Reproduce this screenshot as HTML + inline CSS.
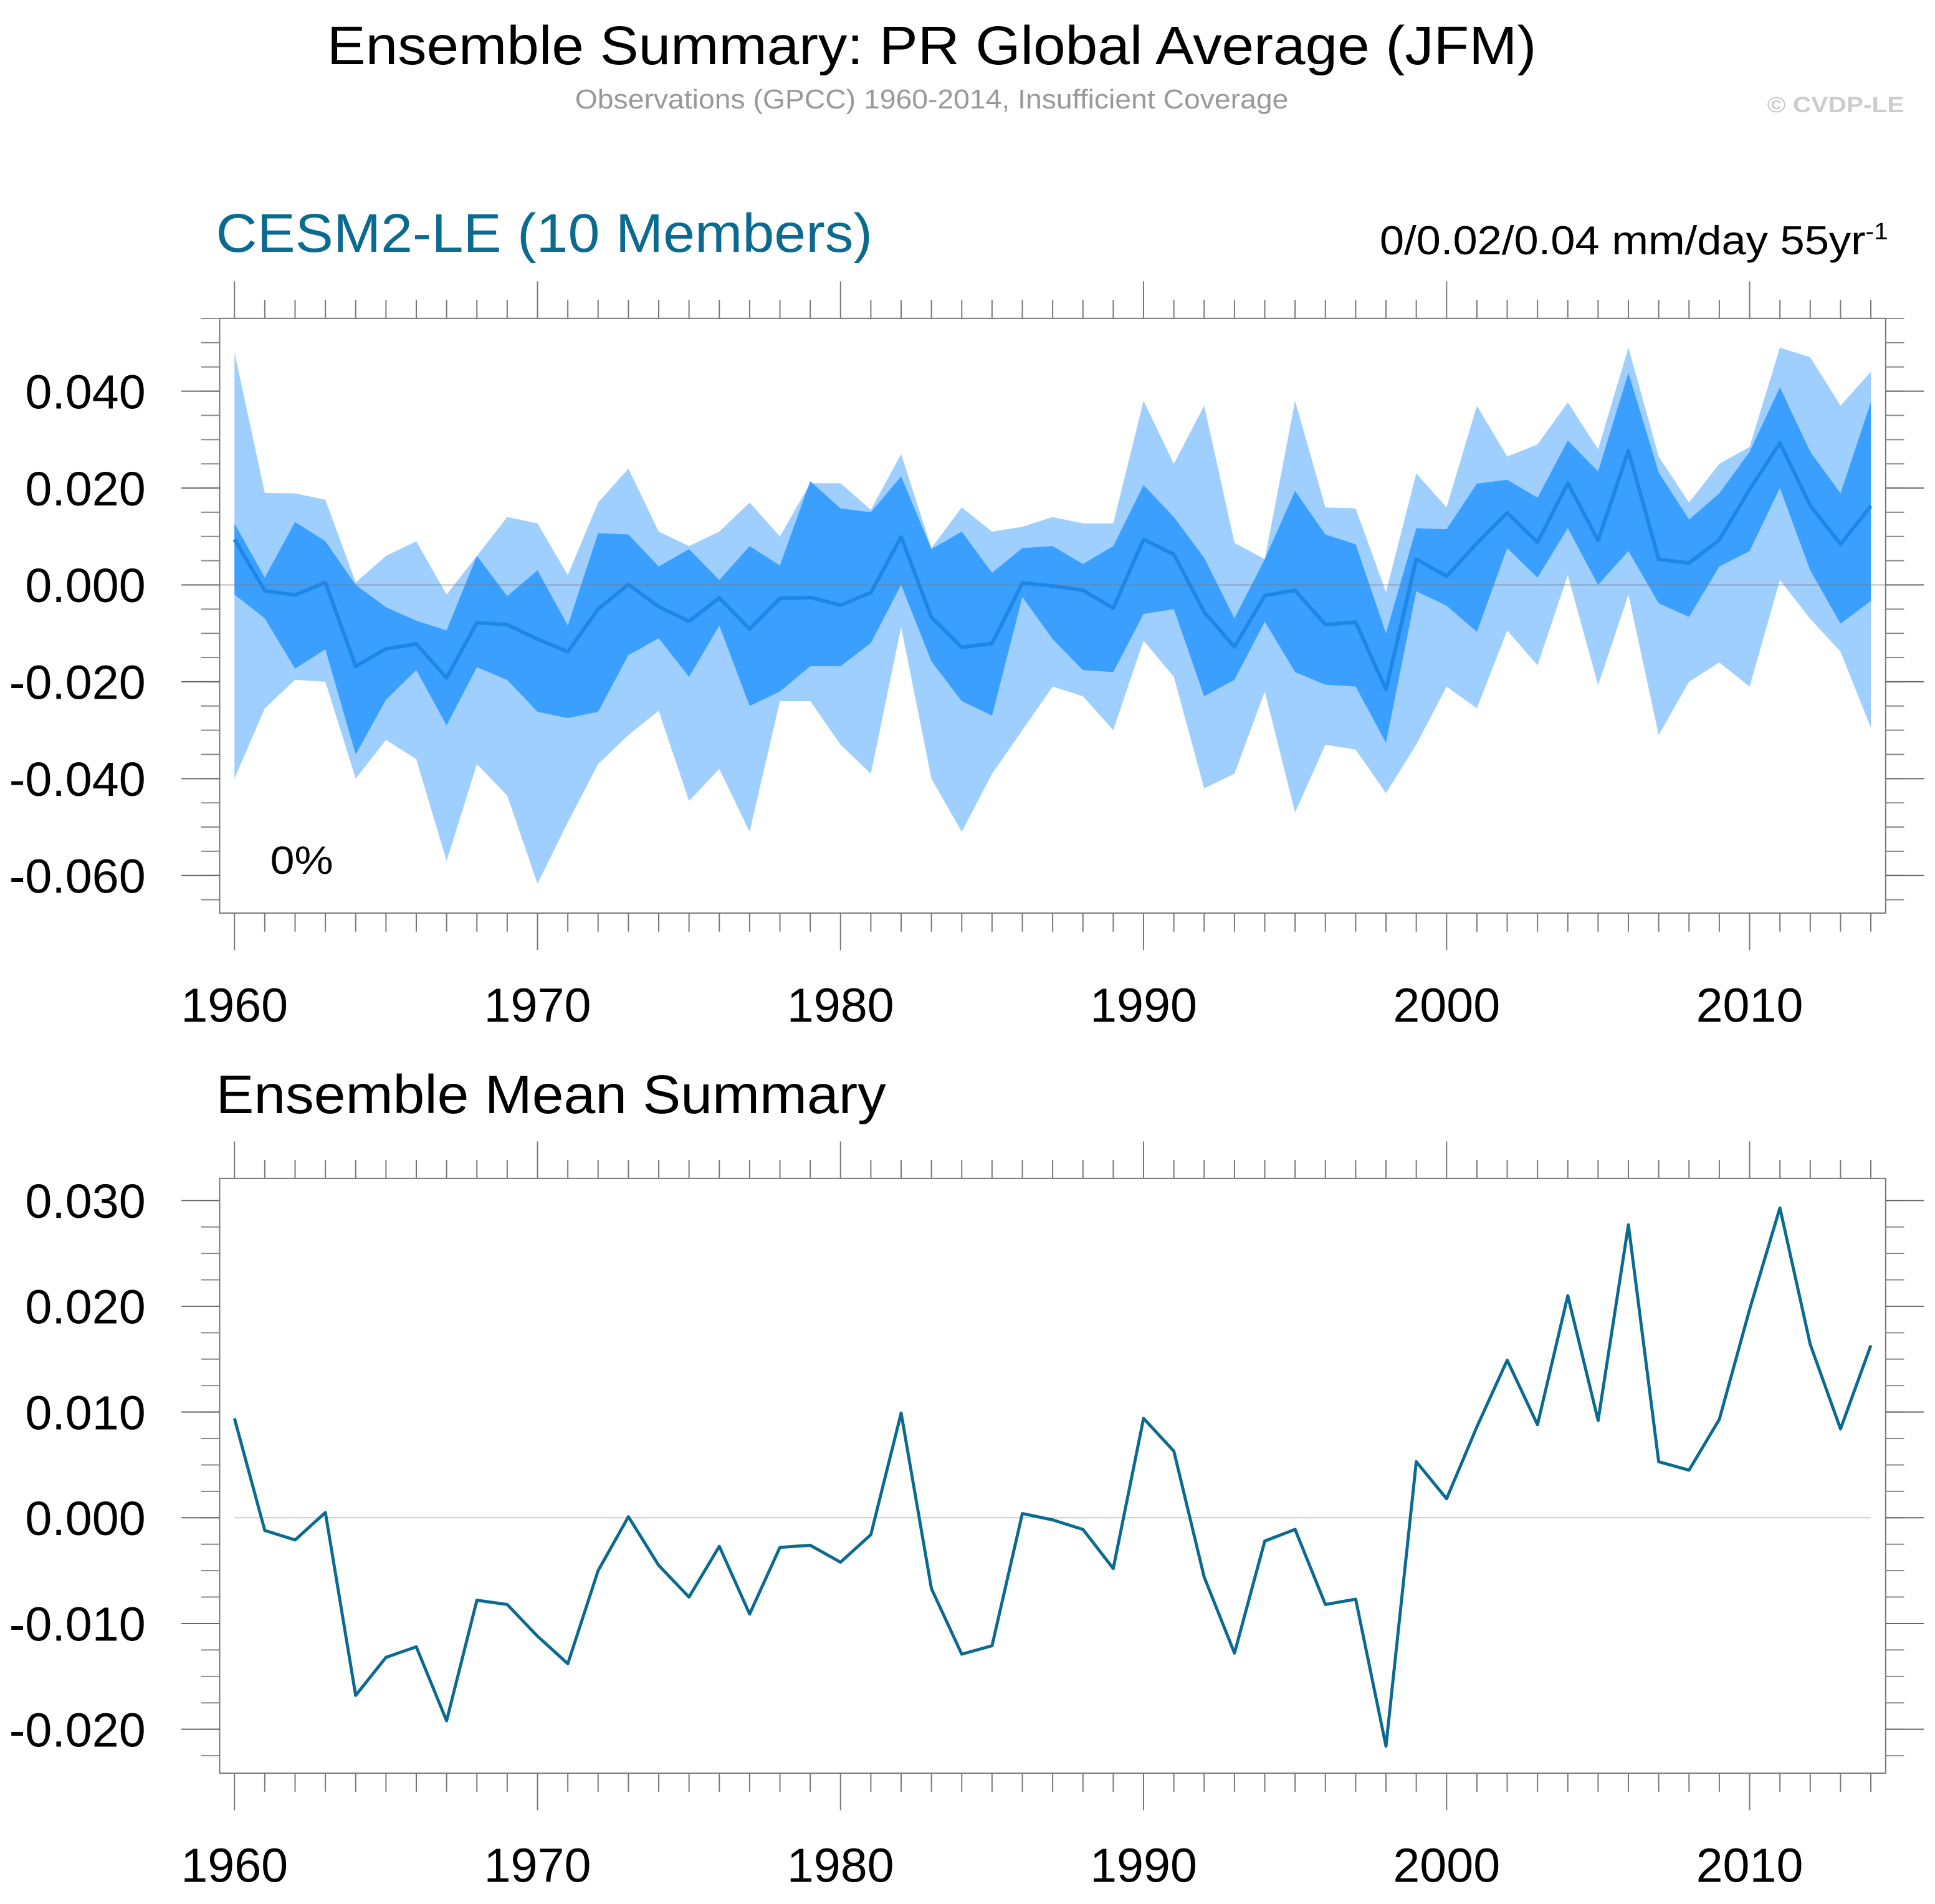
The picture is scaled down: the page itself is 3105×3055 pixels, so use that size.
<!DOCTYPE html>
<html><head><meta charset="utf-8"><style>
html,body{margin:0;padding:0;background:#fff}
svg{display:block}
text{font-family:"Liberation Sans",sans-serif}
</style></head><body>
<svg id="s" width="3105" height="3055" viewBox="0 0 1568 1543" preserveAspectRatio="none" xmlns="http://www.w3.org/2000/svg">
<text x="265" y="52" font-size="44" textLength="980" lengthAdjust="spacingAndGlyphs">Ensemble Summary: PR Global Average (JFM)</text>
<text x="466" y="88" font-size="22" fill="#999" textLength="578" lengthAdjust="spacingAndGlyphs">Observations (GPCC) 1960-2014, Insufficient Coverage</text>
<text x="1432" y="91" font-size="18" fill="#ccc" font-weight="bold" textLength="111" lengthAdjust="spacingAndGlyphs">© CVDP-LE</text>
<text x="175" y="204" font-size="44" fill="#0a6a8f" textLength="532" lengthAdjust="spacingAndGlyphs">CESM2-LE (10 Members)</text>
<text x="1118" y="206" font-size="33" textLength="412" lengthAdjust="spacingAndGlyphs">0/0.02/0.04 mm/day 55yr<tspan dy="-12" font-size="19">-1</tspan></text>
<text x="175" y="902" font-size="44" textLength="543" lengthAdjust="spacingAndGlyphs">Ensemble Mean Summary</text>
<g id="top"></g><g id="bot"></g>
</svg>
<script>
const years=[];for(let y=1960;y<=2014;y++)years.push(y);
const ensMean=[0.0094,-0.0012,-0.0021,0.0005,-0.0168,-0.0132,-0.0122,-0.0192,-0.0078,-0.0082,-0.0112,-0.0138,-0.0050,0.0001,-0.0045,-0.0075,-0.0027,-0.0091,-0.0028,-0.0026,-0.0042,-0.0016,0.0099,-0.0067,-0.0129,-0.0121,0.0004,-0.0002,-0.0011,-0.0048,0.0094,0.0063,-0.0056,-0.0128,-0.0022,-0.0011,-0.0082,-0.0077,-0.0216,0.0053,0.0018,0.0086,0.0149,0.0088,0.0210,0.0092,0.0277,0.0053,0.0045,0.0093,0.0197,0.0293,0.0164,0.0084,0.0163];
const outerHi=[0.048,0.019,0.0189,0.0176,0.0005,0.006,0.009,-0.002,0.006,0.014,0.0127,0.002,0.017,0.024,0.011,0.008,0.011,0.017,0.010,0.021,0.021,0.0155,0.027,0.0076,0.016,0.011,0.012,0.014,0.0127,0.0127,0.038,0.025,0.037,0.0087,0.0053,0.038,0.016,0.0158,-0.0015,0.023,0.016,0.037,0.0265,0.029,0.0377,0.028,0.049,0.0265,0.017,0.025,0.0285,0.049,0.047,0.037,0.044];
const outerLo=[-0.040,-0.0255,-0.0196,-0.020,-0.040,-0.032,-0.036,-0.057,-0.037,-0.0435,-0.0617,-0.049,-0.037,-0.031,-0.026,-0.0446,-0.038,-0.051,-0.024,-0.024,-0.033,-0.039,-0.0087,-0.040,-0.051,-0.039,-0.030,-0.021,-0.023,-0.030,-0.0115,-0.019,-0.042,-0.039,-0.022,-0.047,-0.033,-0.034,-0.043,-0.033,-0.021,-0.0255,-0.0094,-0.0166,0.002,-0.0207,-0.002,-0.031,-0.020,-0.016,-0.021,0.001,-0.007,-0.0138,-0.0295];
const innerHi=[0.0127,0.0015,0.013,0.009,0,-0.0046,-0.0074,-0.0094,0.006,-0.0023,0.003,-0.0084,0.0107,0.0104,0.0038,0.0074,0.001,0.008,0.004,0.0214,0.0158,0.015,0.0224,0.0074,0.011,0.0025,0.0076,0.008,0.0043,0.008,0.0206,0.014,0.0056,-0.0069,0.0053,0.0194,0.0104,0.0084,-0.010,0.0117,0.0115,0.0209,0.0217,0.018,0.0298,0.0234,0.0438,0.0232,0.0135,0.0189,0.0275,0.0408,0.0275,0.0189,0.0377];
const innerLo=[-0.002,-0.0069,-0.0173,-0.0133,-0.035,-0.0237,-0.0176,-0.029,-0.017,-0.0196,-0.0262,-0.0275,-0.0262,-0.0145,-0.011,-0.019,-0.0084,-0.025,-0.022,-0.0168,-0.0168,-0.012,0,-0.0158,-0.024,-0.027,-0.0025,-0.0112,-0.0176,-0.018,-0.006,-0.005,-0.023,-0.0196,-0.0076,-0.018,-0.0206,-0.021,-0.0326,-0.0013,-0.0043,-0.0097,0.0076,0.0015,0.0117,0.0,0.007,-0.0038,-0.0066,0.0038,0.007,0.020,0.003,-0.008,-0.0033];
const topTicks=[0.04,0.02,0,-0.02,-0.04,-0.06];
const topTickLabels=["0.040","0.020","0.000","-0.020","-0.040","-0.060"];
const botTicks=[0.03,0.02,0.01,0,-0.01,-0.02];
const botTickLabels=["0.030","0.020","0.010","0.000","-0.010","-0.020"];
const decades=[1960,1970,1980,1990,2000,2010];

const NS="http://www.w3.org/2000/svg";
function mk(tag,attrs,parent){const e=document.createElementNS(NS,tag);for(const k in attrs)e.setAttribute(k,attrs[k]);parent.appendChild(e);return e;}
const X=y=>190+(y-1960)*(1516-190)/54;

function panel(g,top,bottom,ys,ticks,labels,minorStep,yMin,yMax){
  const L=178,R=1528;
  for(const yr of years){
    const maj=yr%10===0, x=X(yr);
    const t1=mk('line',{x1:x,x2:x,y1:top,y2:top-(maj?30:15),stroke:'#777','stroke-width':1},g);
    
    
    const t2=mk('line',{x1:x,x2:x,y1:bottom,y2:bottom+(maj?30:15),stroke:'#777','stroke-width':1},g);
    
    
  }
  for(const d of decades){
    const t=mk('text',{x:X(d),y:bottom+88,'font-size':39,'text-anchor':'middle'},g);t.textContent=d;
    
    
  }
  for(let v=yMin;v<=yMax+1e-9;v+=minorStep){
    const y=ys(v);if(y<top-1||y>bottom+1)continue;
    const m=mk('line',{x1:L,x2:L-15,y1:y,y2:y,stroke:'#888','stroke-width':1},g);
    
    
    const m2=mk('line',{x1:R,x2:R+15,y1:y,y2:y,stroke:'#888','stroke-width':1},g);
    
    
  }
  ticks.forEach((v,i)=>{
    const y=ys(v);
    const a=mk('line',{x1:L,x2:L-31,y1:y,y2:y,stroke:'#666','stroke-width':1},g);
    
    
    const b=mk('line',{x1:R,x2:R+31,y1:y,y2:y,stroke:'#666','stroke-width':1},g);
    
    
    const t=mk('text',{x:118,y:y+14,'font-size':39,'text-anchor':'end'},g);t.textContent=labels[i];
    
    
  });
}
function band(g,hi,lo,ys,fill,name){
  let d='M'+years.map((y,i)=>X(y)+','+ys(hi[i])).join('L');
  for(let i=years.length-1;i>=0;i--)d+='L'+X(years[i])+','+ys(lo[i]);
  const p=mk('path',{d:d+'Z',fill:fill},g);
  
  
}
function line(g,vals,ys,stroke,w,name){
  const p=mk('path',{d:'M'+years.map((y,i)=>X(y)+','+ys(vals[i])).join('L'),fill:'none',stroke:stroke,'stroke-width':w,'stroke-linejoin':'round'},g);
  
  
}
const gt=document.getElementById('top');
const yT=v=>474-v/0.02*78.5;
band(gt,outerHi,outerLo,yT,'#9fcfff','outer-range-band');
band(gt,innerHi,innerLo,yT,'#3a9fff','inner-range-band');
const z1=mk('line',{x1:178,x2:1528,y1:yT(0),y2:yT(0),stroke:'#777','stroke-opacity':0.5,'stroke-width':1},gt);


line(gt,ensMean,yT,'#1e86e6',3,'ensemble-mean-line');
const f1=mk('rect',{x:178,y:258,width:1350,height:482,fill:'none',stroke:'#777','stroke-width':1},gt);


panel(gt,258,740,yT,topTicks,topTickLabels,0.005,-0.07,0.06);
const pc=mk('text',{x:219,y:708,'font-size':32,textLength:51,lengthAdjust:'spacingAndGlyphs'},gt);pc.textContent='0%';


const gb=document.getElementById('bot');
const yB=v=>1230-v/0.01*85.7;
const z2=mk('line',{x1:190,x2:1516,y1:yB(0),y2:yB(0),stroke:'#ccc','stroke-width':1},gb);


line(gb,ensMean,yB,'#0a6a8f',2.5,'ensemble-mean-line');
const f2=mk('rect',{x:178,y:955,width:1350,height:482,fill:'none',stroke:'#777','stroke-width':1},gb);


panel(gb,955,1437,yB,botTicks,botTickLabels,0.0025,-0.03,0.04);
</script>
</body></html>
